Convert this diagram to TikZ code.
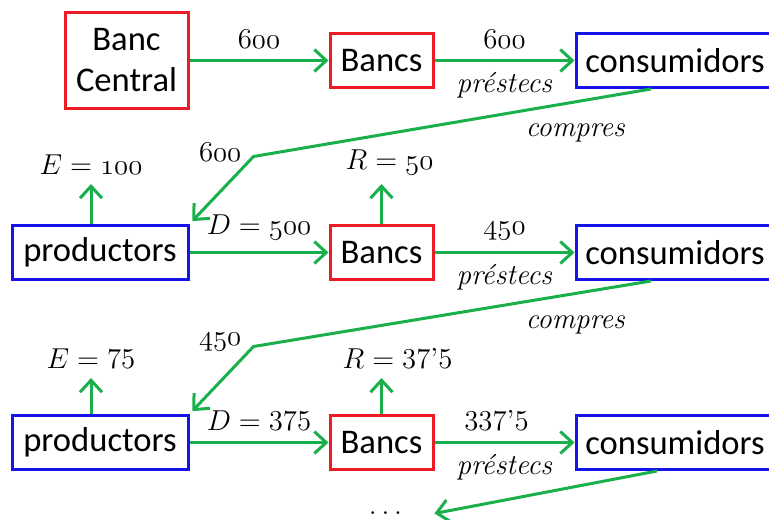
\documentclass[tikz,border=0pt]{standalone}
\usepackage{fontspec}
\usepackage{tikz}
\usetikzlibrary{arrows.meta, positioning}
\newfontfamily\boxfont{Carlito}
\definecolor{cRed}{RGB}{235,28,36}
\definecolor{cBlue}{RGB}{20,20,235}
\definecolor{cGreen}{RGB}{25,175,75}
\tikzset{
    bank/.style ={rectangle, minimum width=51.5pt, minimum height=27pt, align=center, inner sep=2pt, draw=cRed, line width=1.5pt, fill=white, font=\boxfont\fontsize{17.3}{20.5}\selectfont},
    agent/.style={bank, draw=cBlue},
    flow/.style ={-{Straight Barb[length=6pt, width=11pt]}, line width=1.5pt, draw=cGreen},
    lbl/.style  ={font=\fontsize{14.5}{17}\selectfont},
}

\begin{document}
\begin{tikzpicture}[x=0.5pt, y=-0.5pt, lbl]
                \useasboundingbox (0,0) rectangle (769,519);
                % first row
                \node[bank, minimum width=61.5pt, minimum height=47.5pt] (central) at (126.5,60.5) {Banc\\Central};
                \node[bank, right=69.5pt of central] (bancsA) {Bancs};
                \node[agent, minimum width=99pt, right=70pt of bancsA] (consA) {consumidors};
                \draw[flow] (central) -- node[above=2pt]{$\mathnormal{600}$} (bancsA);
                \draw[flow] (bancsA) -- node[above=2pt]{$\mathnormal{600}$} node[below=2pt]{\textit{préstecs}} (consA);
                % second row
                \node[bank, below=67.5pt of bancsA] (bancsB) {Bancs};
                \node[agent, minimum width=88pt, left=69.5pt of bancsB] (prodB) {productors};
                \node[agent, minimum width=99pt, right=70pt of bancsB] (consB) {consumidors};
                \node[above=21pt of prodB.north, xshift=-4.5pt] (eB) {$E = \mathnormal{100}$};
                \node[above=21pt of bancsB.north, xshift=4pt] (rB) {$R = \mathnormal{50}$};
                \coordinate[above right=33.75pt and 32pt of prodB.north east] (bendB);
                \draw[flow, shorten >=1pt] (prodB.north -| eB.south) -- (eB.south);
                \draw[flow, shorten >=1pt] (bancsB.north) -- (bancsB.north |- rB.south);
                \draw[flow] (prodB) -- node[above=2pt]{$D = \mathnormal{500}$} (bancsB);
                \draw[flow] (bancsB) -- node[above=2pt]{$\mathnormal{450}$} node[below=2pt]{\textit{préstecs}} (consB);
                \draw[flow, shorten >=2pt] ([xshift=-12pt]consA.south) -- node[pos=0.19, below=7pt]{\textit{compres}} (bendB) node[left, xshift=-2pt, yshift=2pt]{$\mathnormal{600}$} -- (prodB.north east);
                % third row
                \node[bank, below=66.5pt of bancsB] (bancsC) {Bancs};
                \node[agent, minimum width=88pt, left=69.5pt of bancsC] (prodC) {productors};
                \node[agent, minimum width=99pt, right=70pt of bancsC] (consC) {consumidors};
                \node[above=19pt of prodC.north, xshift=-4.5pt] (eC) {$E = 75$};
                \node[above=19pt of bancsC.north, xshift=8pt] (rC) {$R = 37\mbox{'}5$};
                \coordinate[above right=33.75pt and 32pt of prodC.north east] (bendC);
                \draw[flow, shorten >=1pt] (prodC.north -| eC.south) -- (eC.south);
                \draw[flow, shorten >=1pt] (bancsC.north) -- (bancsC.north |- rC.south);
                \draw[flow] (prodC) -- node[above=2pt]{$D = 375$} (bancsC);
                \draw[flow] (bancsC) -- node[above=2pt, xshift=-4pt]{$337\mbox{'}5$} node[below=2pt]{\textit{préstecs}} (consC);
                \draw[flow, shorten >=2pt] ([xshift=-12pt]consB.south) -- node[pos=0.19, below=7pt]{\textit{compres}} (bendC) node[left, xshift=-2pt, yshift=2pt]{$\mathnormal{450}$} -- (prodC.north east);
                % next round
                \node[below=17pt of bancsC.south, xshift=2pt, inner xsep=16pt] (more) {$\dots$};
                \draw[flow] ([xshift=-9pt]consC.south) -- (more.east);
            \end{tikzpicture}
\end{document}
